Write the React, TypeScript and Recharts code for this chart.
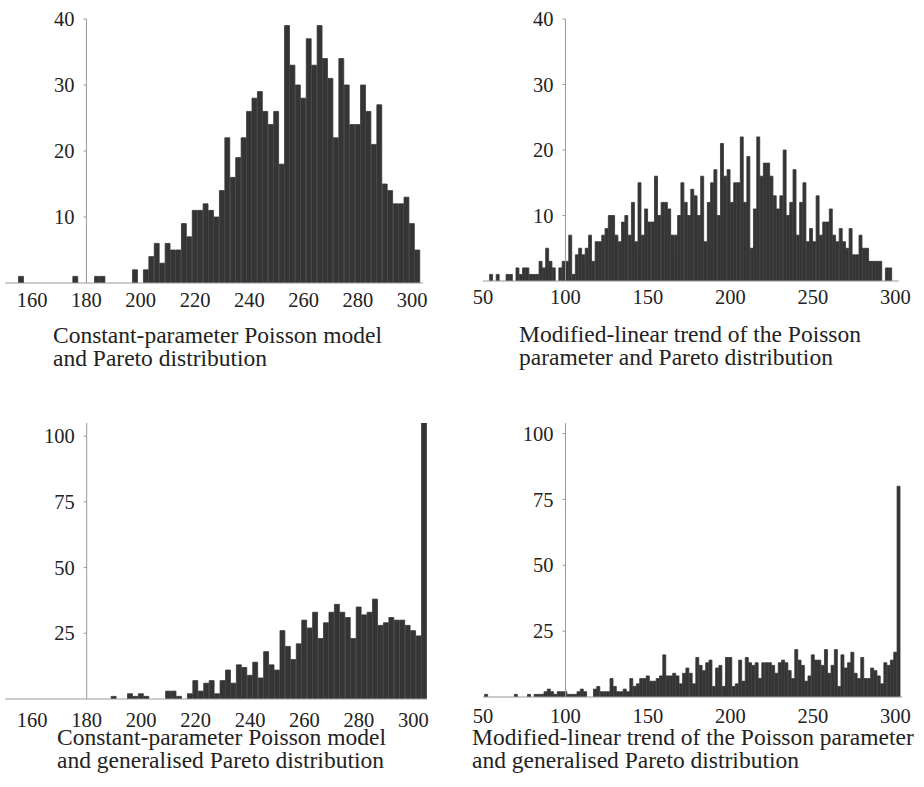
import React from "react";
import { BarChart, Bar, XAxis, YAxis, ReferenceLine } from "recharts";

const FONT = '"Liberation Serif", "Times New Roman", serif';
const BAR = "#353535";
const AXIS = "#9a9a9a";
const INK = "#222";

// every histogram uses bins of width 2; counts run from the first bin centre
const binWidth = 2;

// top left: constant-parameter Poisson model, Pareto
const p1Start = 156;
const p1Counts = [
  1, 0, 0, 0, 0, 0, 0, 0, 0, 0,
  1, 0, 0, 0, 1, 1, 0, 0, 0, 0,
  0, 2, 0, 2, 4, 6, 3, 6, 5, 5,
  9, 7, 11, 11, 12, 11, 10, 14, 22, 16,
  19, 22, 26, 28, 29, 26, 24, 26, 18, 39,
  33, 30, 28, 37, 33, 39, 34, 31, 22, 34,
  30, 24, 24, 30, 26, 21, 27, 15, 14, 12,
  12, 13, 9, 5,
];

// top right: modified-linear trend, Pareto
const p2Start = 55;
const p2Counts = [
  1, 0, 1, 0, 0, 1, 1, 0, 2, 1,
  2, 2, 1, 1, 1, 3, 2, 5, 3, 2,
  0, 2, 3, 3, 7, 1, 4, 5, 4, 5,
  7, 3, 6, 6, 7, 8, 10, 10, 7, 6,
  9, 10, 7, 12, 6, 15, 7, 11, 9, 9,
  16, 10, 12, 12, 11, 7, 7, 10, 15, 12,
  10, 14, 13, 10, 16, 6, 12, 15, 17, 10,
  21, 16, 17, 12, 15, 15, 22, 12, 19, 5,
  11, 22, 16, 18, 18, 16, 13, 11, 13, 20,
  10, 12, 17, 7, 12, 15, 6, 8, 6, 13,
  7, 9, 9, 11, 7, 6, 8, 6, 5, 8,
  4, 4, 7, 5, 5, 3, 3, 3, 3, 0,
  2, 2,
];

// bottom left: constant-parameter Poisson model, generalised Pareto
const p3Start = 190;
const p3Counts = [
  1, 0, 0, 2, 1, 2, 1, 0, 0, 0,
  3, 3, 1, 0, 2, 7, 3, 6, 7, 2,
  7, 11, 6, 13, 12, 9, 14, 8, 18, 13,
  11, 26, 20, 15, 21, 30, 27, 33, 23, 29,
  33, 36, 33, 31, 23, 35, 32, 33, 38, 28,
  29, 31, 30, 30, 28, 26, 24, 105,
];

// bottom right: modified-linear trend, generalised Pareto
const p4Start = 52;
const p4Counts = [
  1, 0, 0, 0, 0, 0, 0, 0, 0, 1,
  0, 0, 0, 1, 0, 1, 1, 1, 2, 3,
  2, 1, 2, 2, 2, 1, 1, 1, 2, 3,
  2, 0, 0, 3, 4, 2, 2, 2, 7, 4,
  2, 2, 3, 2, 7, 4, 5, 7, 7, 8,
  6, 6, 7, 8, 16, 8, 8, 9, 8, 5,
  9, 11, 9, 5, 15, 12, 10, 13, 14, 4,
  11, 12, 4, 15, 15, 4, 5, 14, 6, 15,
  13, 12, 13, 7, 13, 13, 13, 12, 9, 13,
  14, 13, 10, 7, 18, 14, 12, 6, 8, 16,
  14, 14, 12, 18, 9, 12, 18, 4, 16, 11,
  13, 17, 9, 7, 15, 7, 7, 11, 10, 8,
  5, 13, 12, 14, 17, 80,
];

const xTicksLeft = [160, 180, 200, 220, 240, 260, 280, 300];
const xTicksRight = [50, 100, 150, 200, 250, 300];
const yTicksTop = [10, 20, 30, 40];
const yTicksBottom = [25, 50, 75, 100];

const captions = [
  ["Constant-parameter Poisson model", "and Pareto distribution"],
  ["Modified-linear trend of the Poisson", "parameter and Pareto distribution"],
  ["Constant-parameter Poisson model", "and generalised Pareto distribution"],
  ["Modified-linear trend of the Poisson parameter", "and generalised Pareto distribution"],
];

type PanelProps = {
  left: number;
  top: number;
  plotW: number;
  plotH: number;
  xDomain: [number, number];
  yDomain: [number, number];
  origin: number;
  xTicks: number[];
  yTicks: number[];
  start: number;
  counts: number[];
  labelGap: number;
};

function Panel(p: PanelProps) {
  const ML = 30, YW = 1, MT = 10, MR = 20, XH = 40;
  const data = p.counts
    .map((n, i) => ({ x: p.start + i * binWidth, n }))
    .filter((d) => d.n > 0);
  const span = p.xDomain[1] - p.xDomain[0];
  const plotLeft = ML + YW;
  const originPx = plotLeft + ((p.origin - p.xDomain[0]) / span) * p.plotW;
  const barW = (binWidth / span) * p.plotW;

  const yTick = (props: any) => {
    const { y, payload } = props;
    return (
      <g>
        <line x1={originPx - 3} x2={originPx} y1={y} y2={y} stroke={AXIS} />
        <text
          x={originPx - 12}
          y={y}
          dy="0.35em"
          textAnchor="end"
          fontFamily={FONT}
          fontSize={20.5}
          fill={INK}
        >
          {payload.value}
        </text>
      </g>
    );
  };

  const xTick = (props: any) => {
    const { x, y, payload } = props;
    return (
      <text
        x={x}
        y={y}
        dy="0.71em"
        textAnchor="middle"
        fontFamily={FONT}
        fontSize={20.5}
        fill={INK}
      >
        {payload.value}
      </text>
    );
  };

  return (
    <div style={{ position: "absolute", left: p.left - plotLeft, top: p.top - MT }}>
      <BarChart
        width={p.plotW + plotLeft + MR}
        height={p.plotH + MT + XH}
        data={data}
        margin={{ top: MT, right: MR, bottom: 0, left: ML }}
        barCategoryGap={0}
        barGap={0}
      >
        <XAxis
          type="number"
          dataKey="x"
          domain={p.xDomain}
          ticks={p.xTicks}
          allowDataOverflow
          interval={0}
          height={XH}
          axisLine={{ stroke: AXIS }}
          tickLine={false}
          tickSize={6}
          tickMargin={p.labelGap - 6}
          tick={xTick}
        />
        <YAxis
          type="number"
          domain={p.yDomain}
          ticks={p.yTicks}
          allowDataOverflow
          interval={0}
          width={YW}
          axisLine={false}
          tickLine={false}
          tick={yTick}
        />
        <Bar
          dataKey="n"
          fill={BAR}
          stroke={BAR}
          strokeWidth={0.8}
          barSize={barW}
          isAnimationActive={false}
        />
        <ReferenceLine x={p.origin} stroke={AXIS} strokeWidth={1} />
      </BarChart>
    </div>
  );
}

const captionStyle: React.CSSProperties = {
  position: "absolute",
  fontFamily: FONT,
  fontSize: 23.5,
  lineHeight: "23px",
  color: INK,
  whiteSpace: "nowrap",
};

export default function App() {
  return (
    <div
      style={{
        position: "absolute",
        left: 0,
        top: 0,
        width: 924,
        height: 787,
        background: "#fff",
        overflow: "hidden",
      }}
    >
      <Panel
        left={5} top={19} plotW={418} plotH={264}
        xDomain={[150, 304]} yDomain={[0, 40]} origin={180}
        xTicks={xTicksLeft} yTicks={yTicksTop}
        start={p1Start} counts={p1Counts} labelGap={9.5}
      />
      <Panel
        left={482.7} top={19} plotW={415.6} plotH={262}
        xDomain={[50, 302]} yDomain={[0, 40]} origin={100}
        xTicks={xTicksRight} yTicks={yTicksTop}
        start={p2Start} counts={p2Counts} labelGap={8.5}
      />
      <Panel
        left={5} top={423} plotW={422} plotH={276}
        xDomain={[150, 305]} yDomain={[0, 105]} origin={180}
        xTicks={xTicksLeft} yTicks={yTicksBottom}
        start={p3Start} counts={p3Counts} labelGap={13}
      />
      <Panel
        left={482.7} top={423} plotW={419} plotH={274}
        xDomain={[50, 304]} yDomain={[0, 104]} origin={100}
        xTicks={xTicksRight} yTicks={yTicksBottom}
        start={p4Start} counts={p4Counts} labelGap={11}
      />
      <div style={{ ...captionStyle, left: 53, top: 323.6 }}>
        {captions[0][0]}<br />{captions[0][1]}
      </div>
      <div style={{ ...captionStyle, left: 519, top: 322.6 }}>
        {captions[1][0]}<br />{captions[1][1]}
      </div>
      <div style={{ ...captionStyle, left: 57, top: 725.6 }}>
        {captions[2][0]}<br />{captions[2][1]}
      </div>
      <div style={{ ...captionStyle, left: 472, top: 725.6 }}>
        {captions[3][0]}<br />{captions[3][1]}
      </div>
    </div>
  );
}
